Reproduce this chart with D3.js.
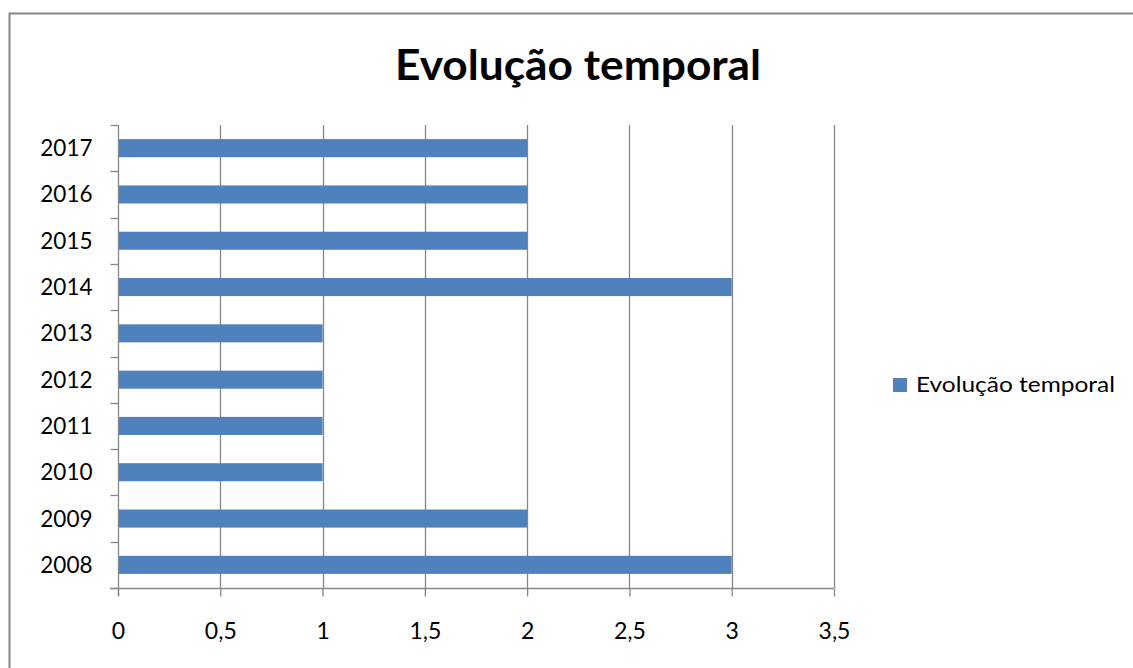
<!DOCTYPE html>
<html>
<head>
<meta charset="utf-8">
<script src="https://cdn.jsdelivr.net/npm/d3@7"></script>
<style>
  html, body { margin: 0; padding: 0; background: #fff; }
  svg { display: block; }
  text { font-family: Lato, "Open Sans", sans-serif; fill: #000; }
</style>
</head>
<body>
<svg id="chart" width="1133" height="668"></svg>
<script>
// Occurrences per year
const years = ["2008", "2009", "2010", "2011", "2012", "2013", "2014", "2015", "2016", "2017"];
const counts = [3, 2, 1, 1, 1, 1, 3, 2, 2, 2];
const xTicks = [0, 0.5, 1, 1.5, 2, 2.5, 3, 3.5];
const xTickLabels = ["0", "0,5", "1", "1,5", "2", "2,5", "3", "3,5"];
const seriesName = "Evolução temporal";
const chartTitle = "Evolução temporal";

const data = years.map((y, i) => ({ year: y, value: counts[i] }));

const svg = d3.select("#chart");
const W = 1133, H = 668;
const plot = { left: 118, right: 834, top: 125, bottom: 588 };
const grey = "#868686";
const barColor = "#4F81BD";

// Outer chart frame
svg.append("rect")
  .attr("x", 9.5).attr("y", 13.5)
  .attr("width", W + 10).attr("height", H + 10)
  .attr("fill", "#fff").attr("stroke", grey).attr("stroke-width", 2);

// Title
svg.append("text")
  .attr("x", 578).attr("y", 79.5)
  .attr("text-anchor", "middle")
  .attr("textLength", 366).attr("lengthAdjust", "spacingAndGlyphs")
  .style("font-size", "42px").style("font-weight", "bold")
  .text(chartTitle);

const x = d3.scaleLinear().domain([0, 3.5]).range([plot.left, plot.right]);
const y = d3.scaleBand().domain(years.slice().reverse())
  .range([plot.top, plot.bottom]).paddingInner(0.61).paddingOuter(0.305);
const yBoundary = d3.scaleLinear().domain([0, years.length]).range([plot.bottom, plot.top]);

// Vertical gridlines
svg.append("g").selectAll("line").data(xTicks.slice(1)).join("line")
  .attr("x1", d => Math.round(x(d)) + 0.5).attr("x2", d => Math.round(x(d)) + 0.5)
  .attr("y1", plot.top).attr("y2", plot.bottom)
  .attr("stroke", grey).attr("stroke-width", 1.3);

// Bars
svg.append("g").selectAll("rect").data(data).join("rect")
  .attr("x", x(0))
  .attr("y", d => y(d.year))
  .attr("width", d => x(d.value) - x(0))
  .attr("height", y.bandwidth())
  .attr("fill", barColor);

// X axis
const xAxis = d3.axisBottom(x).tickValues(xTicks)
  .tickFormat((d, i) => xTickLabels[i]).tickSize(8).tickPadding(0);
const gx = svg.append("g").attr("transform", `translate(0,${plot.bottom + 0.5})`).call(xAxis);
gx.select(".domain").attr("stroke", grey).attr("stroke-width", 1.3)
  .attr("d", `M${plot.left - 8},0H${plot.right}`);
gx.selectAll(".tick line").attr("stroke", grey).attr("stroke-width", 1.3);
gx.selectAll(".tick text")
  .attr("y", 50.5).attr("dy", null)
  .style("font-size", "23px").style("font-family", "Lato, sans-serif").attr("fill", "#000");

// Y axis (category boundaries as ticks)
const gy = svg.append("g").attr("transform", `translate(${plot.left + 0.5},0)`);
gy.append("line").attr("x1", 0).attr("x2", 0)
  .attr("y1", plot.top).attr("y2", plot.bottom + 8)
  .attr("stroke", grey).attr("stroke-width", 1.3);
gy.selectAll("line.b").data(d3.range(years.length + 1)).join("line")
  .attr("class", "b")
  .attr("x1", -8).attr("x2", 0)
  .attr("y1", d => Math.round(yBoundary(d)) + 0.5).attr("y2", d => Math.round(yBoundary(d)) + 0.5)
  .attr("stroke", grey).attr("stroke-width", 1.3);
gy.selectAll("text").data(years).join("text")
  .attr("x", -26).attr("y", d => y(d) + y.bandwidth() / 2 + 8)
  .attr("text-anchor", "end")
  .style("font-size", "22.5px")
  .text(d => d);

// Legend
const lg = svg.append("g").attr("transform", "translate(893,378)");
lg.append("rect").attr("width", 14).attr("height", 14).attr("fill", barColor);
lg.append("text").attr("x", 23).attr("y", 14.3)
  .attr("textLength", 199).attr("lengthAdjust", "spacingAndGlyphs")
  .style("font-size", "21px").text(seriesName);
</script>
</body>
</html>
